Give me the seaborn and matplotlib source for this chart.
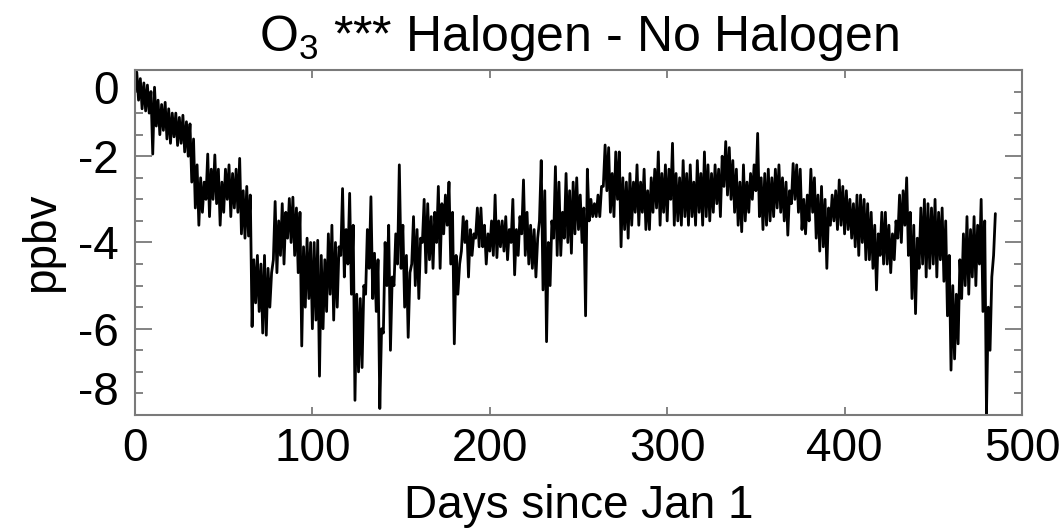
import numpy as np
import pandas as pd
import matplotlib
matplotlib.use("Agg")
import matplotlib.pyplot as plt
import seaborn as sns

# Envelope of the O3 difference, one pair every 2 days.
# low value drawn at day d, high value drawn at day d+1.
days = list(range(0, 486, 2))

o3_high = [
    -0.05, -0.2, -0.3, -0.35, -0.5, -0.4, -0.7, -0.8, -0.75, -0.9,      # 0-18
    -1.0, -1.0, -1.1, -1.05, -1.2, -1.25, -1.6, -2.2, -2.5, -2.6,       # 20-38
    -1.95, -2.3, -1.97, -2.3, -2.6, -2.3, -2.2, -2.4, -2.3, -2.05,      # 40-58
    -2.8, -2.7, -2.9, -4.4, -4.3, -4.5, -4.3, -4.6, -4.7, -3.05,        # 60-78
    -3.5, -3.1, -3.3, -2.98, -2.95, -3.2, -3.3, -4.1, -3.9, -4.0,       # 80-98
    -4.0, -3.95, -4.3, -4.4, -3.8, -3.6, -4.0, -4.1, -2.75, -3.7,       # 100-118
    -2.86, -3.6, -5.2, -5.3, -5.0, -3.7, -2.94, -4.25, -4.4, -6.0,      # 120-138
    -4.0, -3.6, -4.8, -3.8, -2.2, -3.6, -4.3, -4.7, -3.4, -3.7,         # 140-158
    -3.9, -3.0, -3.1, -3.4, -3.3, -2.7, -3.1, -2.9, -2.6, -3.3,         # 160-178
    -4.3, -4.5, -3.4, -3.5, -3.7, -3.8, -3.2, -3.2, -3.6, -3.8,         # 180-198
    -3.5, -2.9, -3.5, -3.5, -3.4, -3.7, -3.0, -3.7, -3.4, -2.55,        # 200-218
    -3.3, -3.6, -3.7, -3.9, -2.1, -2.8, -4.0, -3.5, -2.24, -2.6,        # 220-238
    -3.3, -2.4, -2.8, -2.6, -2.5, -2.9, -3.2, -2.3, -3.0, -3.1,         # 240-258
    -2.9, -2.7, -1.74, -1.8, -2.4, -1.9, -1.9, -2.5, -2.6, -2.4,        # 260-278
    -2.6, -2.2, -2.6, -2.3, -2.8, -2.5, -2.3, -1.9, -2.4, -2.2,         # 280-298
    -2.3, -1.7, -2.4, -2.5, -2.1, -2.4, -2.2, -2.6, -2.1, -2.4,         # 300-318
    -1.9, -2.2, -2.4, -2.2, -2.3, -2.0, -1.66, -1.8, -2.1, -2.3,        # 320-338
    -2.6, -2.2, -2.6, -2.4, -2.2, -1.47, -2.5, -2.4, -2.3, -2.5,        # 340-358
    -2.3, -2.2, -2.5, -2.6, -2.8, -2.17, -2.2, -2.3, -3.0, -2.9,        # 360-378
    -2.3, -2.5, -2.9, -2.7, -3.0, -3.2, -2.9, -2.8, -2.55, -2.7,        # 380-398
    -2.8, -3.0, -3.1, -2.9, -2.9, -3.0, -3.1, -3.3, -3.6, -3.8,         # 400-418
    -3.3, -3.3, -3.6, -3.8, -3.5, -2.9, -2.8, -2.5, -3.3, -3.6,         # 420-438
    -3.9, -3.2, -3.0, -3.1, -3.2, -3.0, -3.3, -3.2, -3.5, -4.3,         # 440-458
    -5.0, -5.2, -4.4, -3.8, -3.4, -3.7, -3.4, -3.6, -3.0, -3.5,         # 460-478
    -5.5, -4.8, -3.33,                                                  # 480-484
]

o3_low = [
    -0.5, -0.7, -0.9, -0.95, -1.0, -1.95, -1.3, -1.5, -1.4, -1.6,       # 0-18
    -1.7, -1.55, -1.75, -1.7, -1.9, -2.0, -2.6, -3.2, -3.6, -3.3,       # 20-38
    -3.0, -3.4, -3.0, -3.1, -3.6, -3.3, -3.0, -3.4, -3.2, -3.3,         # 40-58
    -3.8, -3.9, -3.85, -5.95, -5.4, -5.6, -6.1, -6.15, -5.5, -4.4,      # 60-78
    -4.7, -4.3, -4.5, -3.9, -4.0, -4.3, -4.7, -6.4, -5.5, -5.3,         # 80-98
    -6.0, -5.8, -7.1, -6.0, -5.6, -5.2, -5.8, -5.5, -4.3, -4.8,         # 100-118
    -4.5, -5.2, -7.66, -7.0, -6.9, -5.2, -4.6, -5.3, -5.6, -7.85,       # 120-138
    -6.1, -5.0, -6.5, -5.0, -4.5, -4.6, -5.5, -6.2, -4.5, -5.0,         # 140-158
    -5.3, -4.0, -4.7, -4.4, -4.6, -4.0, -4.6, -3.8, -3.6, -4.5,         # 160-178
    -6.35, -5.2, -4.2, -4.0, -4.8, -4.3, -3.9, -4.1, -4.1, -4.5,        # 180-198
    -4.2, -4.3, -4.35, -4.1, -4.2, -4.4, -4.0, -4.75, -4.3, -3.8,       # 200-218
    -4.3, -4.5, -4.6, -4.8, -3.5, -5.1, -6.3, -5.0, -3.9, -4.3,         # 220-238
    -4.3, -3.9, -4.0, -4.25, -3.8, -3.7, -4.0, -5.7, -3.5, -3.4,        # 240-258
    -3.4, -3.4, -2.7, -2.8, -3.3, -3.4, -3.0, -4.1, -3.7, -3.9,         # 260-278
    -3.6, -3.3, -3.6, -3.3, -3.7, -3.7, -3.3, -3.2, -3.6, -3.3,         # 280-298
    -3.5, -3.0, -3.6, -3.5, -3.6, -3.4, -3.6, -3.4, -3.6, -3.3,         # 300-318
    -3.6, -3.4, -3.5, -3.3, -3.1, -3.4, -2.7, -2.9, -3.0, -3.3,         # 320-338
    -3.6, -3.75, -3.5, -3.3, -3.0, -2.8, -3.4, -3.7, -3.6, -3.5,        # 340-358
    -3.4, -3.2, -3.3, -3.5, -3.83, -3.1, -3.0, -3.3, -3.7, -3.8,        # 360-378
    -3.5, -3.3, -3.9, -4.2, -4.1, -4.6, -3.6, -3.5, -3.7, -3.6,         # 380-398
    -3.8, -3.7, -3.9, -4.1, -4.3, -4.0, -4.4, -4.4, -4.6, -5.1,         # 400-418
    -4.3, -4.5, -4.5, -4.7, -4.4, -3.9, -4.0, -3.6, -4.3, -5.3,         # 420-438
    -5.65, -4.6, -4.5, -4.8, -4.6, -4.5, -4.8, -4.4, -4.9, -5.7,        # 440-458
    -6.96, -6.7, -6.35, -5.3, -5.0, -5.2, -4.8, -5.0, -4.5, -5.6,       # 460-478
    -7.97, -6.5, -4.3,                                                  # 480-484
]

# interleave the envelope into one wiggly series
t, v = [], []
for d, lo, hi in zip(days, o3_low, o3_high):
    t += [d, d + 1]
    v += [lo, hi]
df = pd.DataFrame({"day": t, "o3": v})

sns.set_style("ticks")
plt.rcParams["font.family"] = ["Liberation Sans", "DejaVu Sans"]
plt.rcParams["mathtext.default"] = "regular"
plt.rcParams["axes.unicode_minus"] = False
plt.rcParams["text.color"] = "black"
plt.rcParams["axes.labelcolor"] = "black"

fig = plt.figure(figsize=(10.63, 5.31), dpi=100)
ax = fig.add_axes([0.127, 0.2185, 0.8344, 0.6497])

sns.lineplot(data=df, x="day", y="o3", ax=ax, color="black",
             linewidth=2.0, estimator=None, sort=True)

ax.set_xlim(0, 500)
ax.set_ylim(-8, 0)
ax.set_xticks([0, 100, 200, 300, 400, 500])
ax.set_yticks([0, -2, -4, -6, -8])
ax.set_yticks(np.arange(-7.5, 0, 0.5), minor=True)

axis_grey = "#7a7a7a"
for s in ax.spines.values():
    s.set_color(axis_grey)
    s.set_linewidth(1.5)

ax.tick_params(axis="both", which="both", direction="in", color=axis_grey,
               width=1.3, labelsize=33, labelcolor="black")
ax.tick_params(axis="x", which="major", length=5.5, top=True, pad=9)
ax.tick_params(axis="y", which="major", length=12.5, right=True, pad=12)
ax.tick_params(axis="y", which="minor", length=6, right=True)

ax.set_title("O$_3$ *** Halogen - No Halogen", fontsize=36, pad=14)
ax.set_xlabel("Days since Jan 1", fontsize=33, labelpad=9)
ax.set_ylabel("ppbv", fontsize=33, labelpad=10)

# end labels sit inside the axis span, like the original
ylabels = ax.get_yticklabels()
ylabels[0].set_va("top")
ylabels[-1].set_va("bottom")

plt.savefig("out.png", dpi=100)
